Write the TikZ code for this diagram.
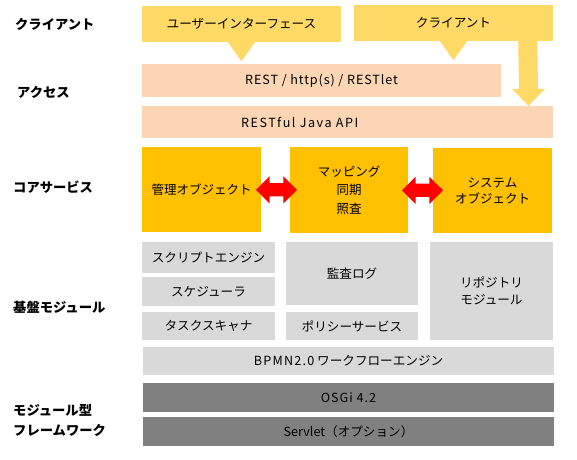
\documentclass[tikz,border=0pt]{standalone}
\usepackage{fontspec}
\setmainfont{Noto Sans CJK JP}
\usetikzlibrary{calc,shapes.arrows}
\definecolor{clientY}{HTML}{FFD966}
\definecolor{accessP}{HTML}{FCD5B4}
\definecolor{coreG}{HTML}{FFC000}
\definecolor{lgrey}{HTML}{D9D9D9}
\definecolor{dgrey}{HTML}{808080}
\newcommand{\lsp}[2]{{\addfontfeature{LetterSpace=#1}#2}}
\tikzset{
  blk/.style={rectangle, inner sep=0pt, align=center, font=\fontsize{12.6}{16}\selectfont},
  clientbox/.style={blk, fill=clientY},
  accessbox/.style={blk, fill=accessP},
  corebox/.style={blk, fill=coreG, font=\fontsize{12.5}{18}\selectfont},
  lgbox/.style={blk, fill=lgrey},
  dgbox/.style={blk, fill=dgrey},
  layerlabel/.style={anchor=west, inner sep=0pt, align=left, font=\fontsize{13.3}{20}\selectfont\bfseries},
  yarrow/.style={fill=clientY},
  redarrow/.style={double arrow, fill=red, inner sep=6.5pt, minimum width=27pt, double arrow head extend=7pt, double arrow tip angle=90, minimum height=41pt}
}
\begin{document}
\begin{tikzpicture}[x=1pt,y=-1pt]
\path[use as bounding box, fill=white] (0,0) rectangle (577,459);
% layer labels
\node[layerlabel] (lclient) at (15,24) {クライアント};
\node[layerlabel] (laccess) at (17,92) {アクセス};
\node[layerlabel] (lcore) at (13,187) {コアサービス};
\node[layerlabel] (lbase) at (13,307) {基盤モジュール};
\node[layerlabel] (lfw) at (13,420) {モジュール型\\フレームワーク};
% client layer
\node[clientbox, minimum width=199pt, minimum height=36pt] (ui) at (241.5,24) {ユーザーインターフェース};
\node[clientbox, minimum width=199pt, minimum height=36pt] (cl) at (453.5,23) {クライアント};
% access layer
\node[accessbox, minimum width=359pt, minimum height=33pt] (rest) at (321.5,80.5) {\lsp{7}{REST / http(s) / RESTlet}};
\node[accessbox, minimum width=411pt, minimum height=32pt] (api) at (347.5,122) {};
\node[anchor=west, inner sep=0pt, font=\fontsize{12.6}{16}\selectfont] (apitext) at (241,122) {\lsp{12}{RESTful Java API}};
% client arrows
\fill[yarrow] ($(ui.south)+(-13.5,0)$) -- ($(ui.south)+(13.5,0)$) -- ($(ui.south)+(0,19)$) -- cycle;
\fill[yarrow] ($(cl.south)+(-13.5,0)$) -- ($(cl.south)+(13.5,0)$) -- ($(cl.south)+(0,19)$) -- cycle;
\coordinate (tip) at ($(api.north)!(528.5,0)!(api.north east)$);
\fill[yarrow] ($(cl.south east)+(-35,-1)$) -- ($(cl.south east)+(-16,-1)$) -- ($(tip)+(9.5,-17)$) -- ($(tip)+(16.5,-17)$) -- (tip) -- ($(tip)+(-16.5,-17)$) -- ($(tip)+(-9.5,-17)$) -- cycle;
% core services
\node[corebox, minimum width=119pt, minimum height=85pt] (core1) at (201.5,189.5) {管理オブジェクト};
\node[corebox, minimum width=118pt, minimum height=86pt, font=\fontsize{12.5}{18.5}\selectfont] (core2) at (349,190) {マッピング\\同期\\照査};
\node[corebox, minimum width=119pt, minimum height=85pt, font=\fontsize{12.5}{16}\selectfont] (core3) at (492.5,190.5) {システム\\オブジェクト};
\node[redarrow] (ra1) at ($(core1.east)!0.5!(core2.west)+(1,0)$) {};
\node[redarrow] (ra2) at ($(core2.east)!0.5!(core3.west)+(2,0)$) {};
% base modules
\node[lgbox, minimum width=133pt, minimum height=31pt] (script) at (208.5,257.5) {スクリプトエンジン};
\node[lgbox, minimum width=133pt, minimum height=29pt] (sched) at (208.5,291.5) {スケジューラ};
\node[lgbox, minimum width=133pt, minimum height=28pt] (task) at (208.5,326) {タスクスキャナ};
\node[lgbox, minimum width=132pt, minimum height=63pt] (audit) at (352,273.5) {監査ログ};
\node[lgbox, minimum width=132pt, minimum height=28pt] (policy) at (352,326) {ポリシーサービス};
\node[lgbox, minimum width=123pt, minimum height=98pt, font=\fontsize{12.6}{17}\selectfont] (repo) at (491.5,291) {リポジトリ\\モジュール};
\node[lgbox, minimum width=411pt, minimum height=28pt] (bpmn) at (348.5,361) {\lsp{10}{BPMN2.0} ワークフローエンジン};
% framework
\node[dgbox, minimum width=411pt, minimum height=29pt] (osgi) at (348.5,397.5) {\lsp{8}{OSGi 4.2}};
\node[dgbox, minimum width=411pt, minimum height=29pt] (servlet) at (348.5,431.5) {Servlet（オプション）};
\end{tikzpicture}
\end{document}
